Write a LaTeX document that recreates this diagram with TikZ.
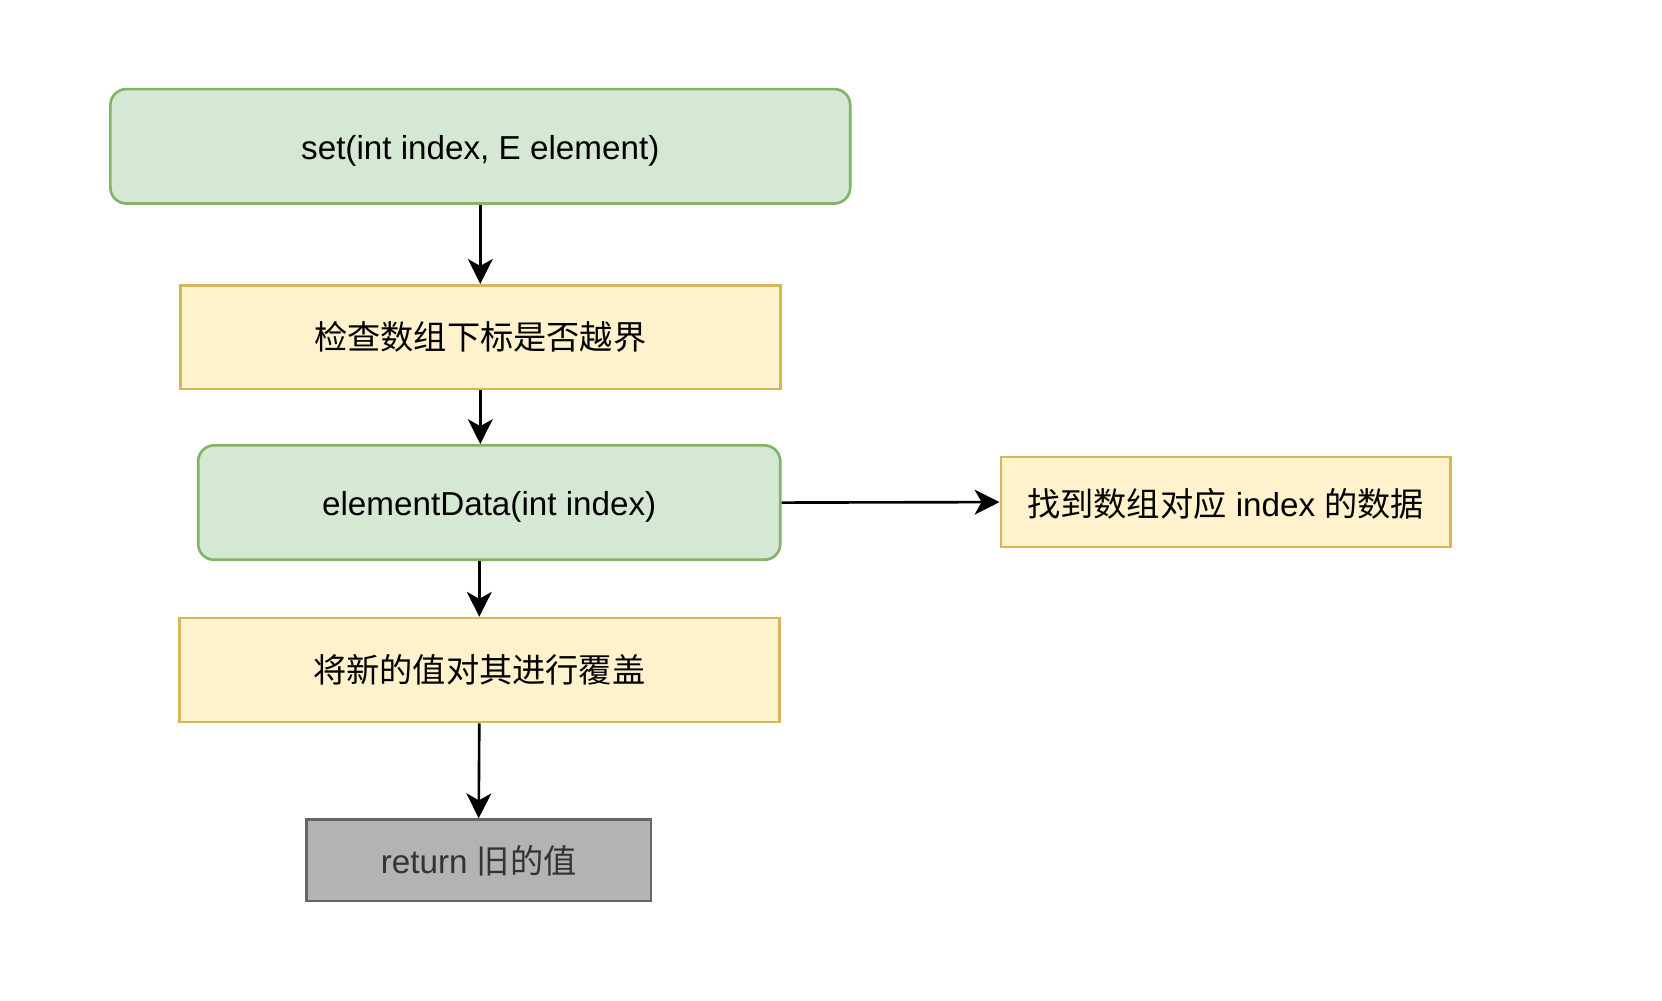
\documentclass[tikz,border=0pt]{standalone}
\usepackage{fontspec}
\usepackage{xcolor}
\usepackage{tikz}
\usetikzlibrary{arrows.meta}
\setmainfont{Liberation Sans}
\newfontfamily\cjk{Noto Sans CJK SC}
\definecolor{greenfill}{HTML}{D5E8D4}
\definecolor{greenline}{HTML}{82B366}
\definecolor{yellowfill}{HTML}{FFF2CC}
\definecolor{yellowline}{HTML}{D6B656}
\definecolor{grayfill}{HTML}{B3B3B3}
\definecolor{grayline}{HTML}{666666}
\definecolor{graytext}{HTML}{333333}

\begin{document}
\begin{tikzpicture}[x=0.02cm,y=-0.02cm,
  box/.style={draw,line width=1.5pt,inner sep=0pt,font=\fontsize{19pt}{23pt}\selectfont},
  callbox/.style={box,fill=greenfill,draw=greenline,rounded corners=0.32cm,text height=17pt,text depth=2.4pt},
  stepbox/.style={box,fill=yellowfill,draw=yellowline},
  endbox/.style={box,fill=grayfill,draw=grayline,text=graytext},
  flow/.style={line width=1.5pt,-{Stealth[length=0.5cm,width=0.5cm,inset=0.14cm]}}]
\useasboundingbox (0,0) rectangle (1670,1005);
%
\node[callbox,minimum width=14.87cm,minimum height=2.30cm] (set) at (482.6,147) {set(int index, E element)};
\node[stepbox,minimum width=12.06cm,minimum height=2.09cm] (check) at (482.6,338.8) {\cjk 检查数组下标是否越界};
\node[callbox,minimum width=11.70cm,minimum height=2.30cm] (elem) at (491.6,505) {elementData(int index)};
\node[stepbox,minimum width=9.04cm,minimum height=1.81cm,text height=19pt,text depth=2.2pt] (find) at (1231.6,504.5) {{\cjk 找到数组对应} index {\cjk 的数据}};
\node[stepbox,minimum width=12.06cm,minimum height=2.09cm] (over) at (481.6,673.3) {\cjk 将新的值对其进行覆盖};
\node[endbox,minimum width=6.93cm,minimum height=1.64cm] (ret) at (481,864.5) {return {\cjk 旧的值}};
%
\draw[flow] (set.south) -- (set.south |- check.north);
\draw[flow] (check.south) -- (check.south |- elem.north);
\draw[flow] (over.north |- elem.south) -- (over.north);
\draw[flow] (over.south) -- (ret.north);
\draw[flow] (elem.east) -- (find.west);
\end{tikzpicture}
\end{document}
